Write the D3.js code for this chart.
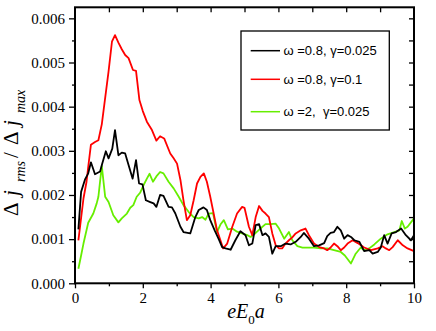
<!DOCTYPE html>
<html><head><meta charset="utf-8">
<script src="https://cdn.jsdelivr.net/npm/d3@7/dist/d3.min.js"></script>
<style>body{margin:0;background:#fff}svg{display:block}</style>
</head><body><svg id="c" width="436" height="331"></svg>
<script>
// ---- data ----
const seriesNames = ["\u03c9 =0.8, \u03b3=0.025", "\u03c9 =0.8, \u03b3=0.1", "\u03c9 =2,  \u03b3=0.025"];
const seriesColors = ["#000000", "#ff0000", "#66ee00"];

const blackX = [0.1,0.18,0.3,0.39,0.47,0.59,0.74,0.8,0.91,0.99,1.1,1.18,1.28,1.38,1.48,1.58,1.7,1.8,1.89,1.99,2.09,2.22,2.32,2.4,2.51,2.61,2.76,2.86,2.96,3.11,3.2,3.4,3.55,3.65,3.79,3.89,3.99,4.12,4.24,4.34,4.44,4.59,4.73,4.88,5.03,5.13,5.23,5.33,5.43,5.53,5.62,5.72,5.82,5.92,6.07,6.21,6.36,6.51,6.66,6.75,6.9,7.05,7.2,7.35,7.44,7.54,7.64,7.74,7.84,7.94,8.04,8.14,8.24,8.39,8.53,8.68,8.78,8.93,9.02,9.12,9.22,9.34,9.47,9.62,9.76,9.91,10];
const blackY = [0.00122,0.00207,0.00236,0.00249,0.00274,0.00247,0.00253,0.0027,0.00299,0.00283,0.00305,0.00347,0.0029,0.00296,0.00294,0.00268,0.00237,0.00279,0.00226,0.00224,0.00188,0.00184,0.00181,0.00173,0.002,0.00198,0.00173,0.00172,0.00158,0.00128,0.00116,0.00113,0.0015,0.00166,0.00172,0.00166,0.00143,0.0012,0.001,0.00082,0.00079,0.00076,0.000975,0.00118,0.00109,0.00086,0.0009,0.00132,0.00134,0.00109,0.00113,0.00105,0.00067,0.00084,0.00084,0.0009,0.00088,0.00094,0.00105,0.00114,0.00101,0.00084,0.00086,0.00091,0.00107,0.00114,0.00116,0.00128,0.0012,0.00101,0.00109,0.00105,0.000975,0.00094,0.00073,0.00075,0.00067,0.00071,0.00081,0.00109,0.0009,0.00113,0.00116,0.00124,0.00109,0.000975,0.00109];

const redX = [0.1,0.25,0.34,0.4,0.47,0.59,0.69,0.79,0.89,0.99,1.09,1.18,1.28,1.38,1.48,1.58,1.71,1.8,1.9,2.0,2.12,2.27,2.4,2.51,2.63,2.81,2.91,3.01,3.11,3.2,3.3,3.4,3.5,3.6,3.7,3.8,3.89,3.99,4.09,4.19,4.29,4.37,4.49,4.64,4.78,4.93,5.0,5.13,5.23,5.33,5.43,5.53,5.62,5.72,5.82,5.92,6.02,6.11,6.21,6.31,6.41,6.51,6.66,6.8,6.9,7.05,7.2,7.35,7.44,7.54,7.64,7.74,7.84,7.94,8.04,8.19,8.34,8.53,8.73,8.93,9.07,9.17,9.27,9.37,9.52,9.67,9.81,10];
const redY = [0.00097,0.00192,0.0023,0.0027,0.00314,0.0032,0.00324,0.0036,0.0042,0.0048,0.00547,0.00562,0.00545,0.0053,0.00517,0.0051,0.00483,0.00481,0.00415,0.0039,0.00366,0.00347,0.00323,0.00333,0.00328,0.00294,0.00283,0.00271,0.00234,0.00188,0.00143,0.00154,0.00188,0.00226,0.00241,0.00249,0.0023,0.00196,0.00158,0.0012,0.000975,0.00079,0.0009,0.00128,0.00158,0.00173,0.00171,0.00128,0.00109,0.0015,0.00175,0.00164,0.00158,0.0015,0.00113,0.00086,0.00079,0.00079,0.0009,0.000975,0.00104,0.00113,0.0012,0.00124,0.00109,0.0009,0.00082,0.00079,0.00075,0.00081,0.0009,0.00084,0.00075,0.00081,0.0009,0.000975,0.00091,0.00081,0.00075,0.00079,0.00084,0.00079,0.00075,0.00082,0.000975,0.00086,0.00079,0.00073];

const greenX = [0.1,0.18,0.25,0.39,0.54,0.64,0.69,0.79,0.89,0.99,1.13,1.28,1.38,1.53,1.63,1.72,1.82,1.92,2.02,2.12,2.2,2.3,2.4,2.51,2.61,2.76,2.91,3.06,3.2,3.35,3.5,3.65,3.75,3.85,3.94,4.07,4.19,4.29,4.39,4.51,4.64,4.78,4.93,5.08,5.18,5.33,5.47,5.62,5.77,5.92,6.02,6.17,6.31,6.41,6.56,6.71,6.9,7.05,7.25,7.44,7.64,7.84,7.96,8.14,8.28,8.43,8.53,8.68,8.83,9.02,9.22,9.42,9.57,9.64,9.73,9.81,10];
const greenY = [0.00033,0.00063,0.0009,0.00137,0.00158,0.00181,0.00196,0.00266,0.00196,0.00184,0.00154,0.00138,0.00147,0.00158,0.00171,0.00177,0.00196,0.00205,0.00222,0.00237,0.00248,0.0023,0.00242,0.00252,0.00249,0.0023,0.00215,0.00196,0.00177,0.00162,0.0015,0.00147,0.0015,0.00144,0.00158,0.00159,0.00116,0.00133,0.00143,0.00122,0.00124,0.00117,0.00113,0.00109,0.00105,0.00114,0.00124,0.00134,0.00134,0.00135,0.00124,0.00101,0.00116,0.000975,0.00084,0.00081,0.00081,0.00081,0.00079,0.00079,0.00075,0.00071,0.00063,0.00045,0.00067,0.00081,0.00075,0.00079,0.00088,0.00101,0.00111,0.00116,0.0012,0.00141,0.00124,0.00128,0.00147];

const xTicks = [0,2,4,6,8,10];
const yTicks = [0,0.001,0.002,0.003,0.004,0.005,0.006];

// ---- drawing ----
const svg = d3.select("#c");
const L = 75, R = 414, T = 7.3, B = 283.3;
const x = d3.scaleLinear().domain([0,10]).range([L,R]);
const y = d3.scaleLinear().domain([0,0.00625]).range([B,T]);
const serif = "'Liberation Serif','Times New Roman',serif";
const sans = "'Liberation Sans',Arial,sans-serif";

const series = [
  {x: blackX, y: blackY},
  {x: redX, y: redY},
  {x: greenX, y: greenY}
];
const line = d3.line().x(d=>x(d[0])).y(d=>y(d[1]));
const order = [2,1,0];
order.forEach(i=>{
  const pts = series[i].x.map((v,k)=>[v, series[i].y[k]]);
  svg.append("path").attr("d", line(pts)).attr("fill","none")
    .attr("stroke", seriesColors[i]).attr("stroke-width",1.8).attr("stroke-linejoin","round");
});

// axes
const minorX = d3.range(1,10,2);
const minorY = d3.range(0.0005,0.0062,0.001);
const gB = svg.append("g").attr("transform",`translate(0,${B})`)
  .call(d3.axisBottom(x).tickValues(xTicks).tickSize(5).tickPadding(4).tickFormat(d3.format("d")));
const gBm = svg.append("g").attr("transform",`translate(0,${B})`)
  .call(d3.axisBottom(x).tickValues(minorX).tickSize(3).tickFormat(""));
const gL = svg.append("g").attr("transform",`translate(${L},0)`)
  .call(d3.axisLeft(y).tickValues(yTicks).tickSize(6).tickPadding(4).tickFormat(d3.format(".3f")));
const gLm = svg.append("g").attr("transform",`translate(${L},0)`)
  .call(d3.axisLeft(y).tickValues(minorY).tickSize(3).tickFormat(""));
const gT = svg.append("g").attr("transform",`translate(0,${T})`)
  .call(d3.axisBottom(x).tickValues(d3.range(1,10,1)).tickSize(5).tickFormat(""));
const gR = svg.append("g").attr("transform",`translate(${R},0)`)
  .call(d3.axisLeft(y).tickValues(d3.range(0.0005,0.0062,0.0005)).tickSize(5).tickFormat(""));
[gB,gBm,gL,gLm,gT,gR].forEach(g=>{
  g.select(".domain").remove();
  g.selectAll("line").attr("stroke","#000").attr("stroke-width",1.3);
  g.selectAll("text").attr("font-family",serif).attr("font-size",15).attr("fill","#000");
});
gB.selectAll("text").attr("dy","0.71em");
// frame
svg.append("rect").attr("x",L).attr("y",T).attr("width",R-L).attr("height",B-T)
  .attr("fill","none").attr("stroke","#000").attr("stroke-width",2);

// x title
const xt = svg.append("text").attr("x",246).attr("y",318).attr("text-anchor","middle")
  .attr("font-family",serif).attr("font-size",20).attr("font-style","italic");
xt.append("tspan").text("eE");
xt.append("tspan").attr("font-size",13).attr("font-style","normal").attr("dy",6).text("0");
xt.append("tspan").attr("dy",-6).text("a");

// y title (rotated; local x = 155 - screen y)
const yt = svg.append("text").attr("transform","translate(17.5,155) rotate(-90)")
  .attr("text-anchor","start").attr("font-family",serif).attr("font-size",21);
yt.append("tspan").attr("x",-61).attr("y",0).text("\u0394");
yt.append("tspan").attr("x",-41).attr("y",0).attr("font-style","italic").text("j");
yt.append("tspan").attr("x",-27).attr("y",7).attr("font-style","italic").attr("font-size",14).text("rms");
yt.append("tspan").attr("x",-3).attr("y",0).text("/");
yt.append("tspan").attr("x",10).attr("y",0).text("\u0394");
yt.append("tspan").attr("x",29).attr("y",0).attr("font-style","italic").text("j");
yt.append("tspan").attr("x",42).attr("y",7).attr("font-style","italic").attr("font-size",14).text("max");

// legend
svg.append("rect").attr("x",241).attr("y",31).attr("width",148.3).attr("height",99)
  .attr("fill","#fff").attr("stroke","#000").attr("stroke-width",1.3);
const legY = [50.7,79.3,111.7];
seriesNames.forEach((n,i)=>{
  svg.append("line").attr("x1",250.7).attr("x2",280).attr("y1",legY[i]).attr("y2",legY[i])
    .attr("stroke",seriesColors[i]).attr("stroke-width",1.5);
  svg.append("text").attr("x",283.5).attr("y",legY[i]+4.5).attr("font-family",sans)
    .attr("font-size",13).style("white-space","pre").text(n);
});
</script></body></html>
